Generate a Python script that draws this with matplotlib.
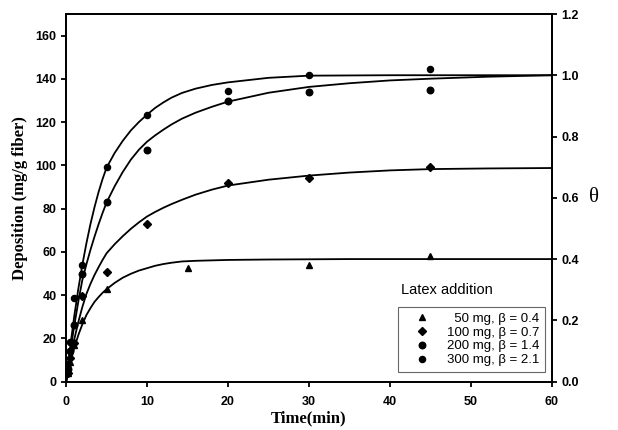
import matplotlib
matplotlib.use("Agg")
import matplotlib.pyplot as plt

# measured points: time (min) and deposition (mg/g fiber)
t_50 = [0.25, 0.5, 1, 2, 5, 15, 30, 45]
dep_50 = [4, 9, 17, 28.6, 42.8, 52.8, 54, 58.2]
t_100 = [0.25, 0.5, 1, 2, 5, 10, 20, 30, 45]
dep_100 = [4, 11, 18, 39.4, 50.6, 72.9, 92.1, 94.2, 99.3]
t_200 = [0.25, 0.5, 1, 2, 5, 10, 20, 30, 45]
dep_200 = [6, 14, 26.2, 50, 82.9, 107.3, 129.6, 133.8, 134.7]
t_300 = [0.25, 0.5, 1, 2, 5, 10, 20, 30, 45]
dep_300 = [8, 18.5, 38.6, 53.9, 99.2, 123.5, 134.6, 142, 144.8]

# fitted curves
fit_t = [0, 0.5, 1, 1.5, 2, 2.5, 3, 3.5, 4, 4.5, 5, 6, 7, 8, 9, 10, 11, 12, 13,
         14.3, 16, 18, 20, 25, 30, 35, 40, 45, 52, 60]
fit_50 = [0, 8.5, 15.5, 21.5, 26.5, 30.8, 34.0, 36.9, 39.1, 41.1, 42.8, 45.7,
          48.1, 49.9, 51.4, 52.5, 53.6, 54.4, 55.0, 55.6, 55.9, 56.1, 56.3,
          56.5, 56.6, 56.7, 56.7, 56.7, 56.7, 56.7]
fit_100 = [0, 10.5, 19.5, 27.5, 34.5, 40.5, 45.2, 49.3, 52.9, 56.3, 59.4, 63.6,
           67.3, 70.7, 73.7, 76.4, 78.5, 80.4, 82.1, 84.1, 86.5, 88.8, 90.7,
           93.4, 95.3, 96.7, 97.7, 98.3, 98.6, 98.8]
fit_200 = [0, 13.6, 25.8, 36.9, 47, 54.2, 60.9, 67.0, 72.7, 78.0, 82.9, 90.4,
           97.0, 102.7, 107.3, 111, 113.9, 116.5, 118.9, 121.6, 124.4, 127.1,
           129.5, 133.6, 136.3, 138.0, 139.3, 140.1, 141.0, 141.7]
fit_300 = [0, 16.0, 30.2, 42.8, 54, 63.9, 72.8, 80.6, 87.6, 93.7, 99, 105.8,
           111.4, 116.2, 120.1, 123.5, 126.6, 129.1, 131.3, 133.5, 135.5,
           137.2, 138.4, 140.5, 141.5, 141.6, 141.7, 141.7, 141.7, 141.7]

labels = ["  50 mg, \u03b2 = 0.4", "100 mg, \u03b2 = 0.7",
          "200 mg, \u03b2 = 1.4", "300 mg, \u03b2 = 2.1"]
theta_ticks = [0.0, 0.2, 0.4, 0.6, 0.8, 1.0, 1.2]

fig = plt.figure(figsize=(6.18, 4.30), dpi=100)
ax = fig.add_axes([0.107, 0.1123, 0.786, 0.8551])

for y in (fit_50, fit_100, fit_200, fit_300):
    ax.plot(fit_t, y, color="black", lw=1.3)

h1, = ax.plot(t_50, dep_50, "^", color="black", ms=4.5, ls="none")
h2, = ax.plot(t_100, dep_100, "D", color="black", ms=3.8, ls="none")
h3, = ax.plot(t_200, dep_200, "o", color="black", ms=4.7, ls="none")
h4, = ax.plot(t_300, dep_300, "o", color="black", ms=4.4, ls="none")

ax.set_xlim(0, 60)
ax.set_ylim(0, 170)
ax.set_xticks(range(0, 61, 10))
ax.set_yticks(range(0, 161, 20))

ax2 = ax.twinx()
ax2.set_ylim(0, 1.2)
ax2.set_yticks(theta_ticks)
ax2.set_yticklabels([f"{v:.1f}" for v in theta_ticks])

for a in (ax, ax2):
    for s in a.spines.values():
        s.set_linewidth(1.3)
    a.tick_params(direction="out", length=3.5, width=1.3)
    for lab in a.get_xticklabels() + a.get_yticklabels():
        lab.set_fontfamily("Liberation Sans")
        lab.set_fontweight("bold")
        lab.set_fontsize(9)
ax.tick_params(axis="x", pad=6.5)
ax.tick_params(axis="y", pad=3.5)
ax2.tick_params(axis="y", pad=3.5)

ax.set_xlabel("Time(min)", fontfamily="Liberation Serif", fontweight="bold",
              fontsize=12, labelpad=2)
ax.set_ylabel("Deposition (mg/g fiber)", fontfamily="Liberation Serif",
              fontweight="bold", fontsize=12, labelpad=5)
ax2.set_ylabel("\u03b8", fontfamily="Liberation Serif", fontsize=15,
               rotation=0, va="center", labelpad=11)

ax.text(0.69, 0.249, "Latex addition", transform=ax.transAxes,
        fontfamily="Liberation Sans", fontsize=10.5, va="center", ha="left")
leg = ax.legend([h1, h2, h3, h4], labels, loc="lower right",
                bbox_to_anchor=(0.986, 0.026), borderaxespad=0,
                prop={"family": "Liberation Sans", "size": 9.5},
                frameon=True, fancybox=False, edgecolor="#444444",
                handletextpad=0.55, labelspacing=0.12, handlelength=2.7,
                borderpad=0.45)
leg.get_frame().set_linewidth(0.8)

fig.savefig("out.png", dpi=100)
